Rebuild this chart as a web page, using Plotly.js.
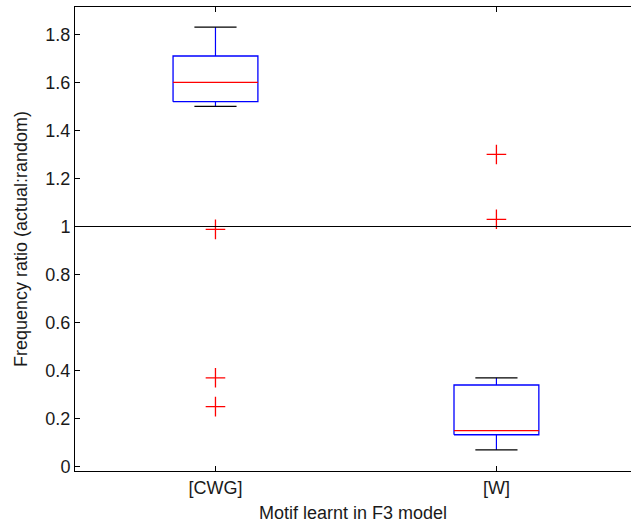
<!DOCTYPE html>
<html>
<head>
<meta charset="utf-8">
<script src="https://cdn.plot.ly/plotly-3.0.1.min.js"></script>
<style>
html, body { margin: 0; padding: 0; background: #fff; overflow: hidden; }
#chart { width: 631px; height: 526px; }
</style>
</head>
<body>
<div id="chart"></div>
<script>
// ---- data ----
var categories = ['[CWG]', '[W]'];
var lowerWhisker = [1.50, 0.07];
var q1Values = [1.52, 0.133];
var medianValues = [1.60, 0.15];
var q3Values = [1.71, 0.34];
var upperWhisker = [1.83, 0.37];
var outliersCWG = [0.988, 0.37, 0.25];
var outliersW = [1.30, 1.03];
var referenceLevel = 1;
var tickValuesY = [0, 0.2, 0.4, 0.6, 0.8, 1, 1.2, 1.4, 1.6, 1.8];
var tickLabelsY = ['0', '0.2', '0.4', '0.6', '0.8', '1', '1.2', '1.4', '1.6', '1.8'];

// ---- build box geometry from data ----
var hw = 0.151, cw = 0.075;
var boxX = [], boxY = [], medX = [], medY = [], whX = [], whY = [], capX = [], capY = [];
categories.forEach(function (c, k) {
  var i = k + 1;
  boxX.push(i - hw, i + hw, i + hw, i - hw, i - hw, null);
  boxY.push(q1Values[k], q1Values[k], q3Values[k], q3Values[k], q1Values[k], null);
  medX.push(i - hw, i + hw, null);
  medY.push(medianValues[k], medianValues[k], null);
  whX.push(i, i, null, i, i, null);
  whY.push(q3Values[k], upperWhisker[k], null, lowerWhisker[k], q1Values[k], null);
  capX.push(i - cw, i + cw, null, i - cw, i + cw, null);
  capY.push(upperWhisker[k], upperWhisker[k], null, lowerWhisker[k], lowerWhisker[k], null);
});
var outX = [], outY = [];
outliersCWG.forEach(function (v) { outX.push(1); outY.push(v); });
outliersW.forEach(function (v) { outX.push(2); outY.push(v); });

var font = { family: 'Liberation Sans, Arial, sans-serif', size: 18, color: '#1a1a1a' };

var traces = [
  { x: whX, y: whY, mode: 'lines', line: { color: '#0000ff', width: 1.2 }, hoverinfo: 'skip' },
  { x: capX, y: capY, mode: 'lines', line: { color: '#000000', width: 1.2 }, hoverinfo: 'skip' },
  { x: boxX, y: boxY, mode: 'lines', line: { color: '#0000ff', width: 1.3 }, hoverinfo: 'skip' },
  { x: medX, y: medY, mode: 'lines', line: { color: '#ff0000', width: 1.2 }, hoverinfo: 'skip' },
  { x: outX, y: outY, mode: 'markers', marker: { symbol: 'cross-thin-open', size: 14, color: '#ff0000', line: { color: '#ff0000', width: 1.3 } }, hoverinfo: 'skip' }
];

var layout = {
  width: 631, height: 526,
  margin: { l: 75, r: 0, t: 7, b: 55 },
  paper_bgcolor: '#ffffff', plot_bgcolor: '#ffffff',
  showlegend: false,
  font: font,
  xaxis: {
    range: [0.5, 2.479], tickvals: [1, 2], ticktext: categories,
    ticks: 'inside', ticklen: 5, tickcolor: '#000', tickwidth: 1,
    showline: true, linecolor: '#000', linewidth: 1, mirror: 'ticks',
    showgrid: false, zeroline: false, tickfont: font,
    title: { text: 'Motif learnt in F3 model', font: font, standoff: 9 }
  },
  yaxis: {
    range: [-0.018, 1.914], tickvals: tickValuesY, ticktext: tickLabelsY,
    ticks: 'inside', ticklen: 5, tickcolor: '#000', tickwidth: 1,
    showline: true, linecolor: '#000', linewidth: 1,
    showgrid: false, zeroline: false, tickfont: font,
    title: { text: 'Frequency ratio (actual:random)', font: font, standoff: 13 }
  },
  shapes: [
    { type: 'line', xref: 'paper', yref: 'y', x0: 0, x1: 1, y0: referenceLevel, y1: referenceLevel, line: { color: '#000', width: 1.2 } }
  ]
};

Plotly.newPlot('chart', traces, layout, { displayModeBar: false, staticPlot: true });
</script>
</body>
</html>
